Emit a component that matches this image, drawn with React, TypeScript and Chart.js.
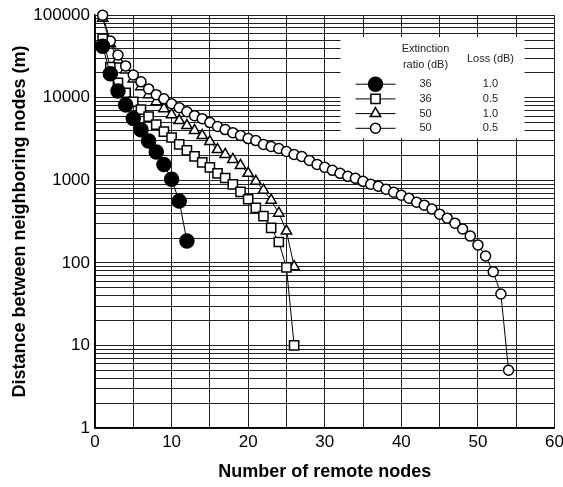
import React, { useEffect, useRef } from 'react';
import { Chart, registerables } from 'chart.js';

Chart.register(...registerables);

// Number of remote nodes (x categories)
const nodes = [
  1, 2, 3, 4, 5, 6, 7, 8, 9, 10, 11, 12, 13, 14, 15, 16, 17, 18, 19, 20,
  21, 22, 23, 24, 25, 26, 27, 28, 29, 30, 31, 32, 33, 34, 35, 36, 37, 38, 39, 40,
  41, 42, 43, 44, 45, 46, 47, 48, 49, 50, 51, 52, 53, 54,
];

// Distance between neighboring nodes (m)
const er36Loss10 = [42000, 19500, 12100, 8200, 5600, 4100, 3000, 2200, 1550, 1030, 560, 184];
const er36Loss05 = [
  52000, 23600, 15200, 11500, 8950, 7170, 5900, 4730, 3890, 3300, 2720, 2300, 1945,
  1650, 1435, 1215, 1066, 895, 723, 590, 463, 368, 266, 179, 88, 10,
];
const er50Loss10 = [
  92000, 45000, 28700, 21700, 16900, 13600, 10900, 8950, 7370, 6240, 5290, 4600, 4000,
  3480, 2950, 2360, 2057, 1790, 1517, 1215, 972, 759, 574, 400, 243, 90,
];
const er50Loss05 = [
  100000, 48600, 33000, 24300, 18900, 15600, 12800, 10900, 9700, 8470, 7580, 6780, 6070,
  5580, 5000, 4480, 4115, 3780, 3480, 3200, 3030, 2715, 2570, 2430, 2235, 2055, 1945,
  1740, 1560, 1435, 1320, 1215, 1117, 1056, 972, 895, 847, 780, 717, 660, 607, 543,
  500, 448, 389, 348, 303, 257, 211, 165, 121, 78, 42, 5,
];

const xTickValues = [0, 10, 20, 30, 40, 50, 60];
const yDecadeValues = [1, 10, 100, 1000, 10000, 100000];
const yDecadeLabels = ['1', '10', '100', '1000', '10000', '100000'];

const legendHeaderRatio = ['Extinction', 'ratio (dB)'];
const legendHeaderLoss = 'Loss (dB)';
const legendRatios = ['36', '36', '50', '50'];
const legendLosses = ['1.0', '0.5', '1.0', '0.5'];
const legendStyles = ['filledCircle', 'rect', 'triangle', 'circle'];

const FONT = '"Liberation Sans", Arial, sans-serif';

const toPoints = (vals: number[]) => vals.map((v, i) => ({ x: nodes[i], y: v }));

function drawMarker(ctx: CanvasRenderingContext2D, style: string, x: number, y: number) {
  ctx.save();
  ctx.lineWidth = 1.5;
  ctx.strokeStyle = '#000';
  ctx.fillStyle = '#fff';
  ctx.beginPath();
  if (style === 'filledCircle') {
    ctx.fillStyle = '#000';
    ctx.arc(x, y, 7, 0, Math.PI * 2);
    ctx.fill();
    ctx.stroke();
  } else if (style === 'rect') {
    ctx.rect(x - 4.6, y - 4.6, 9.2, 9.2);
    ctx.fill();
    ctx.stroke();
  } else if (style === 'triangle') {
    const r = 6;
    ctx.moveTo(x, y - r);
    ctx.lineTo(x + r * 0.866, y + r * 0.5);
    ctx.lineTo(x - r * 0.866, y + r * 0.5);
    ctx.closePath();
    ctx.fill();
    ctx.stroke();
  } else {
    ctx.arc(x, y, 5, 0, Math.PI * 2);
    ctx.fill();
    ctx.stroke();
  }
  ctx.restore();
}

const tableLegend = {
  id: 'tableLegend',
  beforeDatasetsDraw(chart: any) {
    const ctx: CanvasRenderingContext2D = chart.ctx;
    const ca = chart.chartArea;
    const bx = ca.right - 214;
    const by = ca.top + 22;
    ctx.save();
    ctx.fillStyle = '#fff';
    ctx.fillRect(bx, by, 184, 101);
    ctx.fillStyle = '#222';
    ctx.font = '11px ' + FONT;
    ctx.textAlign = 'center';
    ctx.textBaseline = 'middle';
    const colRatio = bx + 85;
    const colLoss = bx + 150;
    ctx.fillText(legendHeaderRatio[0], colRatio, by + 12);
    ctx.fillText(legendHeaderRatio[1], colRatio, by + 28);
    ctx.fillText(legendHeaderLoss, colLoss, by + 22);
    legendRatios.forEach((r, i) => {
      const ry = by + 47 + i * 14.7;
      ctx.strokeStyle = '#000';
      ctx.lineWidth = 1;
      ctx.beginPath();
      ctx.moveTo(bx + 15, ry);
      ctx.lineTo(bx + 55, ry);
      ctx.stroke();
      drawMarker(ctx, legendStyles[i], bx + 35, ry);
      ctx.fillStyle = '#222';
      ctx.fillText(r, colRatio, ry);
      ctx.fillText(legendLosses[i], colLoss, ry);
    });
    ctx.restore();
  },
};

export default function App() {
  const canvasRef = useRef<HTMLCanvasElement | null>(null);

  useEffect(() => {
    document.body.style.margin = '0';
    const canvas = canvasRef.current;
    if (!canvas) return;
    const common = {
      borderColor: '#000',
      borderWidth: 1,
      pointBorderColor: '#000',
      pointBorderWidth: 1.5,
      tension: 0,
      fill: false,
      clip: false as any,
    };
    const chart = new Chart(canvas, {
      type: 'line',
      data: {
        datasets: [
          {
            ...common,
            label: '36 dB / 1.0 dB',
            data: toPoints(er36Loss10),
            pointStyle: 'circle',
            pointRadius: 7,
            pointBackgroundColor: '#000',
            order: 0,
          },
          {
            ...common,
            label: '36 dB / 0.5 dB',
            data: toPoints(er36Loss05),
            pointStyle: 'rect',
            pointRadius: 6.5,
            pointBackgroundColor: '#fff',
            order: 1,
          },
          {
            ...common,
            label: '50 dB / 1.0 dB',
            data: toPoints(er50Loss10),
            pointStyle: 'triangle',
            pointRadius: 6,
            pointBackgroundColor: '#fff',
            order: 3,
          },
          {
            ...common,
            label: '50 dB / 0.5 dB',
            data: toPoints(er50Loss05),
            pointStyle: 'circle',
            pointRadius: 5,
            pointBackgroundColor: '#fff',
            order: 2,
          },
        ],
      },
      options: {
        animation: false,
        responsive: false,
        devicePixelRatio: 1,
        layout: { padding: { top: 13, right: 6, left: 0, bottom: 0 } },
        plugins: { legend: { display: false }, tooltip: { enabled: false } },
        scales: {
          x: {
            type: 'linear',
            min: 0,
            max: 60,
            grid: { color: '#222', lineWidth: 1, drawTicks: false },
            border: { color: '#000', width: 1.5 },
            ticks: {
              stepSize: 5,
              autoSkip: false,
              maxRotation: 0,
              padding: 4,
              color: '#000',
              font: { family: FONT, size: 17 },
              callback: (v: any) => {
                const idx = xTickValues.indexOf(Number(v));
                return idx >= 0 ? String(xTickValues[idx]) : '';
              },
            },
            title: {
              display: true,
              text: 'Number of remote nodes',
              color: '#000',
              font: { family: FONT, size: 18, weight: 'bold' },
              padding: { top: 0, bottom: 4 },
            },
            afterFit: (s: any) => {
              s.height = 59;
              s.paddingLeft = 0;
              s.paddingRight = 0;
            },
          },
          y: {
            type: 'logarithmic',
            min: 1,
            max: 100000,
            grid: { color: '#222', lineWidth: 1, drawTicks: false },
            border: { color: '#000', width: 1.5 },
            afterBuildTicks: (s: any) => {
              const t: { value: number }[] = [];
              for (let k = 0; k < yDecadeValues.length - 1; k++) {
                for (let m = 1; m <= 9; m++) t.push({ value: m * yDecadeValues[k] });
              }
              t.push({ value: yDecadeValues[yDecadeValues.length - 1] });
              s.ticks = t;
            },
            ticks: {
              autoSkip: false,
              padding: 5,
              color: '#000',
              font: { family: FONT, size: 17 },
              callback: (v: any) => {
                const idx = yDecadeValues.indexOf(Number(v));
                return idx >= 0 ? yDecadeLabels[idx] : '';
              },
            },
            title: {
              display: true,
              text: 'Distance between neighboring nodes (m)',
              color: '#000',
              font: { family: FONT, size: 18, weight: 'bold' },
              padding: { top: 9, bottom: 0 },
            },
            afterFit: (s: any) => {
              s.width = 95;
            },
          },
        },
      },
      plugins: [tableLegend],
    } as any);
    return () => chart.destroy();
  }, []);

  return (
    <div style={{ position: 'absolute', left: 0, top: 0, width: 563, height: 487, background: '#fff' }}>
      <canvas ref={canvasRef} width={563} height={487} style={{ display: 'block' }} />
    </div>
  );
}
